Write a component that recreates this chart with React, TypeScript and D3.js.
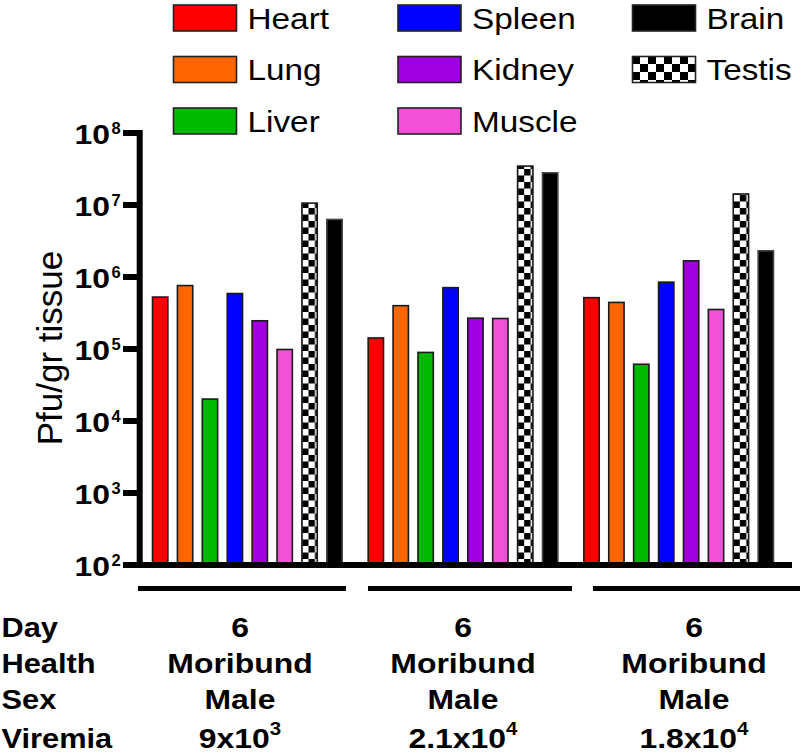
import React, { useEffect } from "react";
import * as d3 from "d3";

// tissue titers (pfu / gr tissue) for three moribund males
const animals = ["A", "B", "C"];
const organs = ["Heart", "Lung", "Liver", "Spleen", "Kidney", "Muscle", "Testis", "Brain"];
const heart = [5.4e5, 1.46e5, 5.3e5];
const lung = [7.8e5, 4.1e5, 4.55e5];
const liver = [2.07e4, 9.2e4, 6.3e4];
const spleen = [6.05e5, 7.3e5, 8.7e5];
const kidney = [2.53e5, 2.75e5, 1.72e6];
const muscle = [1.01e5, 2.72e5, 3.63e5];
const testis = [1.09e7, 3.56e7, 1.46e7];
const brain = [6.46e6, 2.87e7, 2.37e6];
const seriesValues = [heart, lung, liver, spleen, kidney, muscle, testis, brain];

const yTicks = [1e2, 1e3, 1e4, 1e5, 1e6, 1e7, 1e8];

// table under the chart
const rowLabels = ["Day", "Health", "Sex", "Viremia"];
const days = ["6", "6", "6"];
const health = ["Moribund", "Moribund", "Moribund"];
const sex = ["Male", "Male", "Male"];
const viremiaMantissa = ["9", "2.1", "1.8"];
const viremiaExp = ["3", "4", "4"];

// legend layout: column per organ group
const legendOrder = [
  ["Heart", "Lung", "Liver"],
  ["Spleen", "Kidney", "Muscle"],
  ["Brain", "Testis"],
];

const colors: Record<string, string> = {
  Heart: "#ff0000",
  Lung: "#ff6600",
  Liver: "#00b900",
  Spleen: "#0000ff",
  Kidney: "#a000df",
  Muscle: "#f350d8",
  Testis: "url(#checkBar)",
  Brain: "#000000",
};

const FONT = "'Liberation Sans', Arial, Helvetica, sans-serif";

const App = () => {
  useEffect(() => {
    document.body.style.margin = "0";
  }, []);

  const width = 800;
  const height = 753;
  const baseY = 565;

  const y = d3.scaleLog().domain([1e2, 1e8]).range([baseY, 133]);
  const x0 = d3.scaleBand().domain(animals).range([139.5, 786.5]);
  const x1 = d3
    .scaleBand()
    .domain(organs)
    .range([0, x0.bandwidth()])
    .paddingInner(0.32)
    .paddingOuter(0.49);

  const sx = 1.13; // the original lettering is a bit wider than Arial
  const tableCols = [240, 463, 694];
  const tableRows = [636.5, 673, 709, 747.5];
  const groupLines = [
    [138, 346],
    [368, 572],
    [593, 800],
  ];

  return (
    <svg width={width} height={height} style={{ display: "block", fontFamily: FONT }}>
      <defs>
        <pattern id="checkBar" width={13} height={13} patternUnits="userSpaceOnUse">
          <rect width={13} height={13} fill="#fff" />
          <rect width={6.5} height={6.5} fill="#000" />
          <rect x={6.5} y={6.5} width={6.5} height={6.5} fill="#000" />
        </pattern>
        <pattern id="checkLegend" width={16} height={16} patternUnits="userSpaceOnUse" x={632} y={56}>
          <rect width={16} height={16} fill="#fff" />
          <rect width={8} height={8} fill="#000" />
          <rect x={8} y={8} width={8} height={8} fill="#000" />
        </pattern>
      </defs>

      {/* legend */}
      {legendOrder.map((col, ci) =>
        col.map((name, ri) => {
          const lx = [173.5, 398, 632.5][ci];
          const ly = 5 + ri * 51.5;
          return (
            <g key={name}>
              <rect
                x={lx}
                y={ly}
                width={63}
                height={26}
                fill={name === "Testis" ? "url(#checkLegend)" : colors[name]}
                stroke="#222"
                strokeWidth={1.6}
              />
              <text
                transform={`translate(${lx + 74},${ly + 23.5}) scale(${sx},1)`}
                fontSize={29.5}
                fill="#000"
              >
                {name}
              </text>
            </g>
          );
        })
      )}

      {/* bars */}
      {animals.map((a, gi) => (
        <g key={a} transform={`translate(${x0(a)},0)`}>
          {organs.map((o, si) => {
            const v = seriesValues[si][gi];
            const top = y(v);
            return (
              <rect
                key={o}
                x={(x1(o) as number) + 0.8}
                y={top + 0.8}
                width={x1.bandwidth() - 1.6}
                height={baseY - top}
                fill={colors[o]}
                stroke={o === "Brain" ? "#444" : "#1a1a1a"}
                strokeWidth={1.6}
              />
            );
          })}
        </g>
      ))}

      {/* y axis */}
      <line x1={139.7} x2={139.7} y1={130} y2={baseY + 3} stroke="#000" strokeWidth={6} />
      <line x1={136.7} x2={792} y1={baseY} y2={baseY} stroke="#000" strokeWidth={6} />
      {yTicks.map((t) => {
        const ty = y(t);
        const exp = Math.round(Math.log10(t));
        return (
          <g key={t}>
            <line x1={123} x2={140} y1={ty} y2={ty} stroke="#000" strokeWidth={6} />
            <text
              transform={`translate(${110},${ty + 11}) scale(1.18,1)`}
              textAnchor="end"
              fontSize={27}
              fontWeight="bold"
            >
              10
            </text>
            <text x={111.5} y={ty + 0.5} fontSize={16.5} fontWeight="bold">
              {exp}
            </text>
          </g>
        );
      })}
      <text
        transform="translate(62,348) rotate(-90)"
        textAnchor="middle"
        fontSize={35}
      >
        Pfu/gr tissue
      </text>

      {/* group underlines */}
      {groupLines.map(([a, b], i) => (
        <line key={i} x1={a} x2={b} y1={588.5} y2={588.5} stroke="#000" strokeWidth={5} />
      ))}

      {/* table */}
      {rowLabels.map((r, i) => (
        <text
          key={r}
          transform={`translate(1.5,${tableRows[i]}) scale(1.1,1)`}
          fontSize={28}
          fontWeight="bold"
        >
          {r}
        </text>
      ))}
      {animals.map((a, gi) => {
        const cx = tableCols[gi];
        const cells = [days[gi], health[gi], sex[gi]];
        return (
          <g key={a}>
            {cells.map((c, ri) => (
              <text
                key={ri}
                transform={`translate(${cx},${tableRows[ri]}) scale(1.14,1)`}
                textAnchor="middle"
                fontSize={28}
                fontWeight="bold"
              >
                {c}
              </text>
            ))}
            <text
              transform={`translate(${cx},${tableRows[3]}) scale(1.14,1)`}
              textAnchor="middle"
              fontSize={28}
              fontWeight="bold"
            >
              {viremiaMantissa[gi]}x10
              <tspan fontSize={18} dy={-13}>
                {viremiaExp[gi]}
              </tspan>
            </text>
          </g>
        );
      })}
    </svg>
  );
};

export default App;
